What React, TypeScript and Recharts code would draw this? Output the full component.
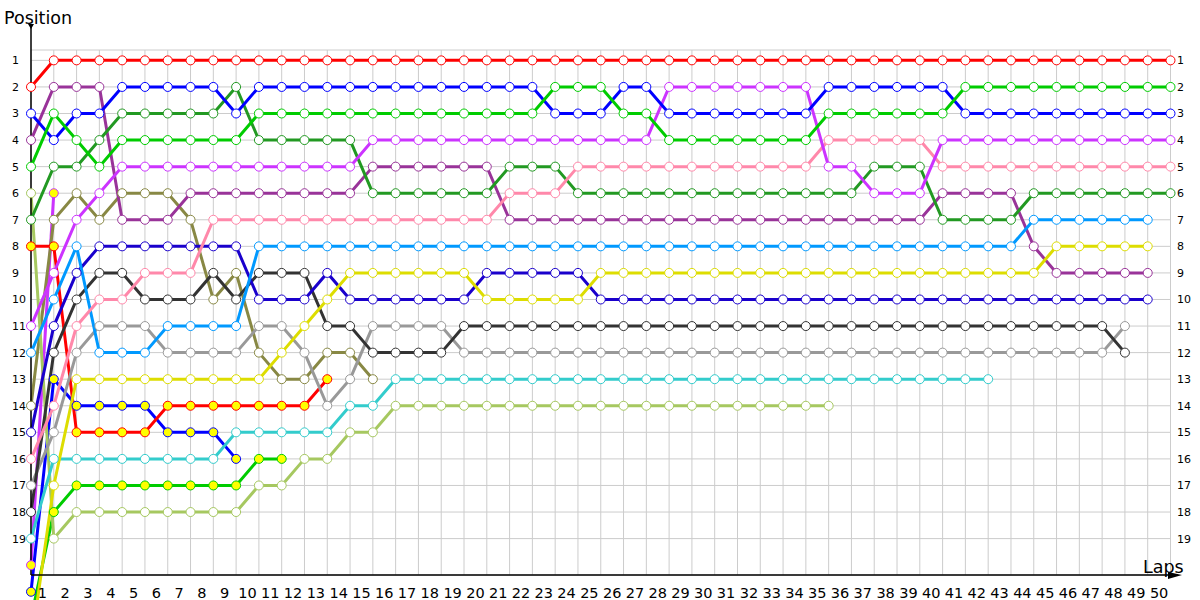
import React from 'react';
import { LineChart, Line, XAxis, YAxis, CartesianGrid } from 'recharts';

// position of each car at the end of every lap (index 0 = starting grid), null = not running
const laps = [0, 1, 2, 3, 4, 5, 6, 7, 8, 9, 10, 11, 12, 13, 14, 15, 16, 17, 18, 19, 20, 21, 22, 23, 24, 25,
  26, 27, 28, 29, 30, 31, 32, 33, 34, 35, 36, 37, 38, 39, 40, 41, 42, 43, 44, 45, 46, 47, 48, 49, 50];

const red = [2, 1, 1, 1, 1, 1, 1, 1, 1, 1, 1, 1, 1, 1, 1, 1, 1, 1, 1, 1, 1, 1, 1, 1, 1, 1,
  1, 1, 1, 1, 1, 1, 1, 1, 1, 1, 1, 1, 1, 1, 1, 1, 1, 1, 1, 1, 1, 1, 1, 1, 1];
const green = [5, 3, 4, 5, 4, 4, 4, 4, 4, 4, 3, 3, 3, 3, 3, 3, 3, 3, 3, 3, 3, 3, 3, 2, 2, 2,
  3, 3, 4, 4, 4, 4, 4, 4, 4, 3, 3, 3, 3, 3, 3, 2, 2, 2, 2, 2, 2, 2, 2, 2, 2];
const blue = [3, 4, 3, 3, 2, 2, 2, 2, 2, 3, 2, 2, 2, 2, 2, 2, 2, 2, 2, 2, 2, 2, 2, 3, 3, 3,
  2, 2, 3, 3, 3, 3, 3, 3, 3, 2, 2, 2, 2, 2, 2, 3, 3, 3, 3, 3, 3, 3, 3, 3, 3];
const violet = [11, 9, 7, 6, 5, 5, 5, 5, 5, 5, 5, 5, 5, 5, 5, 4, 4, 4, 4, 4, 4, 4, 4, 4, 4, 4,
  4, 4, 2, 2, 2, 2, 2, 2, 2, 5, 5, 6, 6, 6, 4, 4, 4, 4, 4, 4, 4, 4, 4, 4, 4];
const pink = [16, 14, 11, 10, 10, 9, 9, 9, 7, 7, 7, 7, 7, 7, 7, 7, 7, 7, 7, 7, 7, 6, 6, 6, 5, 5,
  5, 5, 5, 5, 5, 5, 5, 5, 5, 4, 4, 4, 4, 4, 5, 5, 5, 5, 5, 5, 5, 5, 5, 5, 5];
const darkGreen = [7, 5, 5, 4, 3, 3, 3, 3, 3, 2, 4, 4, 4, 4, 4, 6, 6, 6, 6, 6, 6, 5, 5, 5, 6, 6,
  6, 6, 6, 6, 6, 6, 6, 6, 6, 6, 6, 5, 5, 5, 7, 7, 7, 7, 6, 6, 6, 6, 6, 6, 6];
const skyBlue = [12, 10, 8, 12, 12, 12, 11, 11, 11, 11, 8, 8, 8, 8, 8, 8, 8, 8, 8, 8, 8, 8, 8, 8, 8, 8,
  8, 8, 8, 8, 8, 8, 8, 8, 8, 8, 8, 8, 8, 8, 8, 8, 8, 8, 7, 7, 7, 7, 7, 7, null];
const yellow = [23, 17, 13, 13, 13, 13, 13, 13, 13, 13, 13, 12, 11, 10, 9, 9, 9, 9, 9, 9, 10, 10, 10, 10, 10, 9,
  9, 9, 9, 9, 9, 9, 9, 9, 9, 9, 9, 9, 9, 9, 9, 9, 9, 9, 9, 8, 8, 8, 8, 8, null];
const purple = [4, 2, 2, 2, 7, 7, 7, 6, 6, 6, 6, 6, 6, 6, 6, 5, 5, 5, 5, 5, 5, 7, 7, 7, 7, 7,
  7, 7, 7, 7, 7, 7, 7, 7, 7, 7, 7, 7, 7, 7, 6, 6, 6, 6, 8, 9, 9, 9, 9, 9, null];
const navy = [15, 11, 9, 8, 8, 8, 8, 8, 8, 8, 10, 10, 10, 9, 10, 10, 10, 10, 10, 10, 9, 9, 9, 9, 9, 10,
  10, 10, 10, 10, 10, 10, 10, 10, 10, 10, 10, 10, 10, 10, 10, 10, 10, 10, 10, 10, 10, 10, 10, 10, null];
const charcoal = [18, 12, 10, 9, 9, 10, 10, 10, 9, 10, 9, 9, 9, 11, 11, 12, 12, 12, 12, 11, 11, 11, 11, 11, 11, 11,
  11, 11, 11, 11, 11, 11, 11, 11, 11, 11, 11, 11, 11, 11, 11, 11, 11, 11, 11, 11, 11, 11, 12, null, null];
const grey = [17, 15, 12, 11, 11, 11, 12, 12, 12, 12, 11, 11, 12, 14, 13, 11, 11, 11, 11, 12, 12, 12, 12, 12, 12, 12,
  12, 12, 12, 12, 12, 12, 12, 12, 12, 12, 12, 12, 12, 12, 12, 12, 12, 12, 12, 12, 12, 12, 11, null, null];
const cyan = [19, 16, 16, 16, 16, 16, 16, 16, 16, 15, 15, 15, 15, 15, 14, 14, 13, 13, 13, 13, 13, 13, 13, 13, 13, 13,
  13, 13, 13, 13, 13, 13, 13, 13, 13, 13, 13, 13, 13, 13, 13, 13, 13];
const lime = [6, 19, 18, 18, 18, 18, 18, 18, 18, 18, 17, 17, 16, 16, 15, 15, 14, 14, 14, 14, 14, 14, 14, 14, 14, 14,
  14, 14, 14, 14, 14, 14, 14, 14, 14, 14];
const olive = [14, 7, 6, 7, 6, 6, 6, 7, 10, 9, 12, 13, 13, 12, 12, 13];
const redB = [8, 8, 15, 15, 15, 15, 14, 14, 14, 14, 14, 14, 14, 13];
const blueB = [21, 13, 14, 14, 14, 14, 15, 15, 15, 16];
const greenB = [22, 18, 17, 17, 17, 17, 17, 17, 17, 17, 16, 16];
const violetB = [20, 6];

const lapTicks = [1, 2, 3, 4, 5, 6, 7, 8, 9, 10, 11, 12, 13, 14, 15, 16, 17, 18, 19, 20, 21, 22, 23, 24, 25,
  26, 27, 28, 29, 30, 31, 32, 33, 34, 35, 36, 37, 38, 39, 40, 41, 42, 43, 44, 45, 46, 47, 48, 49, 50];
const positionTicks = [1, 2, 3, 4, 5, 6, 7, 8, 9, 10, 11, 12, 13, 14, 15, 16, 17, 18, 19];

const WHITE = '#ffffff';
const YEL = '#ffff00';

const drivers = [
  { key: 'violetB', data: violetB, color: '#cc33ff', fill: YEL },
  { key: 'greenB', data: greenB, color: '#00cc00', fill: YEL },
  { key: 'blueB', data: blueB, color: '#0000ff', fill: YEL },
  { key: 'redB', data: redB, color: '#ff0000', fill: YEL },
  { key: 'olive', data: olive, color: '#888844', fill: WHITE },
  { key: 'lime', data: lime, color: '#a6c860', fill: WHITE },
  { key: 'cyan', data: cyan, color: '#33cccc', fill: WHITE },
  { key: 'grey', data: grey, color: '#999999', fill: WHITE },
  { key: 'charcoal', data: charcoal, color: '#333333', fill: WHITE },
  { key: 'navy', data: navy, color: '#1a00cc', fill: WHITE },
  { key: 'purple', data: purple, color: '#993399', fill: WHITE },
  { key: 'yellow', data: yellow, color: '#dddd00', fill: WHITE },
  { key: 'skyBlue', data: skyBlue, color: '#0099ff', fill: WHITE },
  { key: 'darkGreen', data: darkGreen, color: '#229922', fill: WHITE },
  { key: 'pink', data: pink, color: '#ff88aa', fill: WHITE },
  { key: 'violet', data: violet, color: '#cc33ff', fill: WHITE },
  { key: 'blue', data: blue, color: '#0000ff', fill: WHITE },
  { key: 'green', data: green, color: '#00cc00', fill: WHITE },
  { key: 'red', data: red, color: '#ff0000', fill: WHITE },
];

const rows = laps.map((lap, i) => {
  const row: Record<string, number | null> = { lap };
  drivers.forEach((d) => {
    const v = d.data[i];
    row[d.key] = v === undefined ? null : v;
  });
  return row;
});

const FONT = 'DejaVu Sans';
const LAP_W = 1139.5 / 50;
const Y_DOMAIN = [0.61, 20.37];

const LapTick = (props: any) => {
  const { x, y, payload } = props;
  return (
    <text x={x - LAP_W / 2} y={y + 15} textAnchor="middle" fontFamily={FONT} fontSize={14.5} fill="#000">
      {payload.value}
    </text>
  );
};

const LeftTick = (props: any) => {
  const { x, y, payload } = props;
  return (
    <text x={x - 11} y={y} dy="0.36em" textAnchor="start" fontFamily={FONT} fontSize={11} fill="#000">
      {payload.value}
    </text>
  );
};

const RightTick = (props: any) => {
  const { x, y, payload } = props;
  return (
    <text x={x - 1.5} y={y} dy="0.36em" textAnchor="start" fontFamily={FONT} fontSize={11} fill="#000">
      {payload.value}
    </text>
  );
};

export default function App() {
  return (
    <div style={{ position: 'absolute', left: 0, top: 0, width: 1200, height: 600, background: '#fff' }}>
      <style>{'.recharts-surface [clip-path]{clip-path:none !important;}'}</style>
      <LineChart width={1200} height={600} data={rows} margin={{ top: 50, right: 0, bottom: 0, left: 0 }}>
        <CartesianGrid stroke="#cccccc" strokeWidth={1} />
        <XAxis
          dataKey="lap"
          type="number"
          domain={[0, 50]}
          ticks={lapTicks}
          height={25}
          axisLine={{ stroke: '#000', strokeWidth: 1.5 }}
          tickLine={false}
          tick={<LapTick />}
          interval={0}
        />
        <YAxis
          type="number"
          reversed
          domain={Y_DOMAIN}
          allowDataOverflow
          ticks={positionTicks}
          width={31}
          axisLine={{ stroke: '#000', strokeWidth: 1.5 }}
          tickLine={false}
          tick={<LeftTick />}
          interval={0}
        />
        <YAxis
          yAxisId="r"
          orientation="right"
          type="number"
          reversed
          domain={Y_DOMAIN}
          allowDataOverflow
          ticks={positionTicks}
          width={29.5}
          axisLine={false}
          tickLine={false}
          tick={<RightTick />}
          interval={0}
        />
        {drivers.map((d) => (
          <Line
            key={d.key}
            dataKey={d.key}
            type="linear"
            stroke={d.color}
            strokeWidth={3}
            dot={{ r: 4.5, fill: d.fill, stroke: d.color, strokeWidth: 1 }}
            activeDot={false}
            connectNulls={false}
            isAnimationActive={false}
          />
        ))}
      </LineChart>
      <svg width={1200} height={600} style={{ position: 'absolute', left: 0, top: 0, pointerEvents: 'none' }}>
        <line x1={31} y1={26} x2={31} y2={50} stroke="#000" strokeWidth={1.5} />
        <polygon points="28,24 34,24 31,29" fill="#000" />
        <line x1={1170} y1={575} x2={1178} y2={575} stroke="#000" strokeWidth={1.5} />
        <polygon points="1168,572 1182,575 1168,579" fill="#000" />
        <text x={4} y={24} fontFamily={FONT} fontSize={17.5} fill="#000">Position</text>
        <text x={1143} y={573} fontFamily={FONT} fontSize={17.5} fill="#000">Laps</text>
      </svg>
    </div>
  );
}
